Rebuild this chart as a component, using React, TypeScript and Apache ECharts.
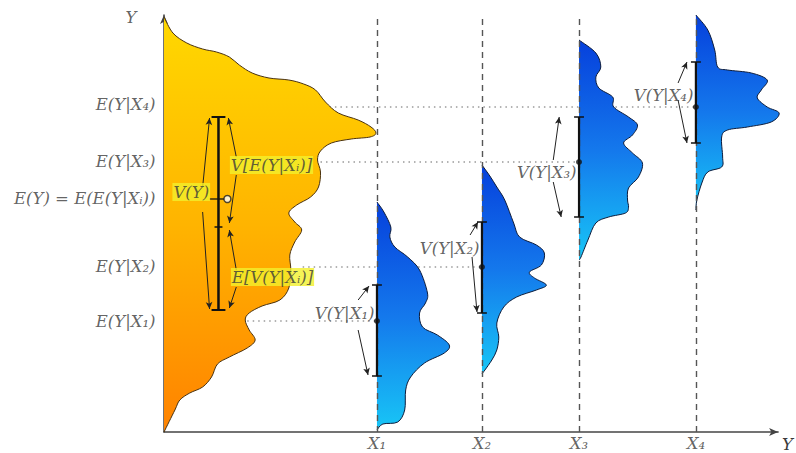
import React, { useEffect, useRef } from "react";
import * as echarts from "echarts";

// ---- data (chart units: x = horizontal units from the Y axis, y = value of Y) ----
const groupNames = ["X₁", "X₂", "X₃", "X₄"];
const groupX = [215, 321, 419, 537];
const condMeans = [111, 165, 270, 325];
const condMeanLabels = ["E(Y|X₁)", "E(Y|X₂)", "E(Y|X₃)", "E(Y|X₄)"];
const condMeanLabelY = [111, 166, 271, 328];
const condVarLabels = ["V(Y|X₁)", "V(Y|X₂)", "V(Y|X₃)", "V(Y|X₄)"];
const condVarLabelY = [119, 184, 260, 337];
const condLow = [56, 119, 215, 289];
const condHigh = [147, 210, 315, 370];
const dottedStartX = [84, 140, 158, 167];

const totalMean = 233;
const totalMeanLabel = "E(Y) = E(E(Y|Xᵢ))";
const totalLow = 122;
const totalHigh = 315;
const betweenTick = 205;
const bracketX = 55;

// marginal density of Y: [width, y]
const marginalY = [
  [0, 415], [9, 399], [23, 389], [39, 383], [53, 380], [66, 375], [76, 367], [89, 359],
  [106, 354], [126, 352], [141, 348], [153, 342], [163, 330], [176, 319], [196, 312],
  [209, 305], [214, 299], [208, 295], [189, 293], [169, 289], [158, 281], [155, 272],
  [158, 260], [156, 245], [148, 235], [134, 227], [126, 219], [132, 210], [139, 202],
  [132, 190], [127, 177], [128, 162], [126, 144], [117, 132], [99, 126], [86, 119],
  [82, 112], [86, 102], [92, 92], [84, 84], [66, 75], [54, 68], [48, 55], [39, 45],
  [26, 39], [16, 32], [11, 22], [0, 0],
];
// conditional densities: [width, y]
const density1 = [
  [0, 230], [7, 220], [14, 205], [13, 195], [18, 185], [31, 175], [43, 162], [51, 139],
  [49, 129], [43, 119], [46, 105], [61, 97], [73, 87], [68, 79], [48, 69], [34, 55],
  [29, 42], [28, 22], [21, 10], [6, 8], [0, 2],
];
const density2 = [
  [0, 267], [8, 256], [15, 245], [23, 232], [32, 209], [38, 195], [55, 187], [63, 179],
  [60, 167], [48, 160], [53, 154], [65, 147], [55, 142], [35, 135], [22, 125], [15, 109],
  [17, 95], [15, 82], [10, 72], [3, 62], [0, 58],
];
const density3 = [
  [0, 392], [17, 379], [22, 365], [17, 355], [20, 344], [34, 335], [35, 325], [50, 315],
  [59, 307], [54, 297], [45, 289], [54, 279], [64, 269], [60, 255], [50, 244], [49, 232],
  [50, 225], [47, 219], [30, 215], [17, 209], [9, 192], [2, 175], [0, 172],
];
const density4 = [
  [0, 417], [12, 402], [19, 382], [22, 365], [32, 362], [56, 359], [72, 352], [66, 342],
  [62, 334], [72, 325], [84, 319], [76, 310], [52, 305], [32, 302], [26, 295], [27, 275],
  [26, 265], [12, 260], [6, 249], [1, 232], [0, 222],
];
const densities = [density1, density2, density3, density4];

// arrows: [x0, y0, x1, y1]
const arrows = [
  [39, 245, 46, 314], [39, 220, 46, 123],
  [73, 275, 65, 314], [73, 257, 66, 209],
  [73, 162, 66, 202], [73, 145, 66, 124],
  [196, 132, 207, 146], [196, 102, 206, 57],
  [309, 197, 317, 210], [311, 175, 316, 120],
  [393, 272, 399, 315], [393, 250, 401, 215],
  [519, 349, 528, 370], [519, 332, 528, 289],
];

// highlighted labels
const highlightTexts = ["V(Y)", "V[E(Y|Xᵢ)]", "E[V(Y|Xᵢ)]"];
const highlightX = [8, 66, 67];
const highlightY = [240, 267, 155];

const mathFont = {
  fontFamily: '"DejaVu Serif", "Liberation Serif", serif',
  fontStyle: "italic",
  fontSize: 16.5,
  color: "#3a3a3a",
};

function catmull(p: number[][]): string {
  let d = `M${p[0][0]},${p[0][1]}`;
  for (let i = 0; i < p.length - 1; i++) {
    const p0 = p[i - 1] || p[i];
    const p1 = p[i];
    const p2 = p[i + 1];
    const p3 = p[i + 2] || p2;
    const c1x = p1[0] + (p2[0] - p0[0]) / 6;
    const c1y = p1[1] + (p2[1] - p0[1]) / 6;
    const c2x = p2[0] - (p3[0] - p1[0]) / 6;
    const c2y = p2[1] - (p3[1] - p1[1]) / 6;
    d += ` C${c1x},${c1y} ${c2x},${c2y} ${p2[0]},${p2[1]}`;
  }
  return d;
}

function shapeSeries(baseX: number, pts: number[][], stops: string[], stroke: string) {
  return {
    type: "custom",
    z: 2,
    silent: true,
    clip: false,
    data: [[baseX, pts[0][1]]],
    renderItem: (_params: any, api: any) => {
      const px = pts.map(([w, v]) => api.coord([baseX + w, v]));
      const curve = catmull(px);
      return {
        type: "group",
        children: [
          {
            type: "path",
            shape: { pathData: curve + " Z" },
            style: {
              fill: new echarts.graphic.LinearGradient(
                0, 0, 0, 1,
                stops.map((c, i) => ({ offset: i / (stops.length - 1), color: c }))
              ),
              stroke: "none",
            },
          },
          {
            type: "path",
            shape: { pathData: curve },
            style: { fill: "none", stroke, lineWidth: 1 },
          },
        ],
      };
    },
  };
}

function dottedSeries(x0: number, x1: number, y: number) {
  return {
    type: "line",
    z: 1,
    silent: true,
    symbol: "none",
    data: [[x0, y], [x1, y]],
    lineStyle: { color: "#9a9a9a", width: 1.3, type: [1.5, 4] },
  };
}

// segments: [x0, y0, x1, y1, width]
function buildSegments(): number[][] {
  const segs: number[][] = [];
  groupX.forEach((gx, i) => {
    segs.push([gx, condLow[i], gx, condHigh[i], 2.2]);
    segs.push([gx - 5, condLow[i], gx + 5, condLow[i], 1.5]);
    segs.push([gx - 5, condHigh[i], gx + 5, condHigh[i], 1.5]);
  });
  segs.push([bracketX, totalLow, bracketX, totalHigh, 2.5]);
  segs.push([bracketX - 7, totalLow, bracketX + 7, totalLow, 2]);
  segs.push([bracketX - 7, totalHigh, bracketX + 7, totalHigh, 2]);
  segs.push([bracketX - 4, betweenTick, bracketX + 4, betweenTick, 1.5]);
  segs.push([bracketX - 9, totalMean, bracketX + 7, totalMean, 1.3]);
  return segs;
}

export default function App() {
  const ref = useRef<HTMLDivElement>(null);

  useEffect(() => {
    if (!ref.current) return;
    const chart = echarts.init(ref.current, null, { renderer: "svg" });
    const blueStops = ["#0640dc", "#1478ec", "#18c6f6"];
    const orangeStops = ["#ffd800", "#ffb400", "#ff8200"];

    const series: any[] = [];
    groupX.forEach((gx, i) => series.push(dottedSeries(dottedStartX[i], gx, condMeans[i])));
    series.push(dottedSeries(68, 138, totalMean));

    series.push(shapeSeries(0, marginalY, orangeStops, "#4a3210"));
    densities.forEach((d, i) => series.push(shapeSeries(groupX[i], d, blueStops, "#0c1c3c")));

    // dashed verticals
    series.push({
      type: "line",
      z: 3,
      silent: true,
      data: [],
      markLine: {
        silent: true,
        symbol: ["none", "none"],
        label: { show: false },
        lineStyle: { color: "#555", width: 1.4, type: [6, 5] },
        data: groupX.map((x) => ({ xAxis: x })),
      },
    });
    // arrows
    series.push({
      type: "line",
      z: 4,
      silent: true,
      data: [],
      markLine: {
        silent: true,
        symbol: ["none", "arrow"],
        symbolSize: [5, 7],
        label: { show: false },
        lineStyle: { color: "#222", width: 1, type: "solid" },
        data: arrows.map(([x0, y0, x1, y1]) => [{ coord: [x0, y0] }, { coord: [x1, y1] }]),
      },
    });

    // brackets
    series.push({
      type: "custom",
      z: 5,
      silent: true,
      clip: false,
      data: buildSegments(),
      renderItem: (_p: any, api: any) => {
        const a = api.coord([api.value(0), api.value(1)]);
        const b = api.coord([api.value(2), api.value(3)]);
        return {
          type: "line",
          shape: { x1: a[0], y1: a[1], x2: b[0], y2: b[1] },
          style: { stroke: "#111", lineWidth: api.value(4) },
        };
      },
    });

    // mean dots
    series.push({
      type: "scatter",
      z: 6,
      silent: true,
      symbolSize: 6,
      itemStyle: { color: "#111" },
      data: groupX.map((x, i) => [x, condMeans[i]]),
    });
    series.push({
      type: "scatter",
      z: 6,
      silent: true,
      symbolSize: 7,
      itemStyle: { color: "#fff", borderColor: "#222", borderWidth: 1.5 },
      data: [[bracketX + 9, totalMean]],
    });

    const labelPoint = { symbolSize: 1, itemStyle: { color: "rgba(0,0,0,0)" } };
    series.push({
      type: "scatter",
      z: 7,
      silent: true,
      ...labelPoint,
      data: [
        ...condMeanLabels.map((t, i) => ({ name: t, value: [0, condMeanLabelY[i]] })),
        { name: totalMeanLabel, value: [0, 234] },
      ],
      label: { show: true, position: "left", distance: 8, formatter: (p: any) => p.name, ...mathFont },
    });
    series.push({
      type: "scatter",
      z: 7,
      silent: true,
      ...labelPoint,
      data: [{ name: "Y", value: [0, 415] }],
      label: { show: true, position: "left", distance: 27, formatter: (p: any) => p.name, ...mathFont },
    });
    series.push({
      type: "scatter",
      z: 7,
      silent: true,
      ...labelPoint,
      data: groupNames.map((t, i) => ({ name: t, value: [groupX[i], 0] })),
      label: { show: true, position: "bottom", distance: 2, formatter: (p: any) => p.name, ...mathFont },
    });
    series.push({
      type: "scatter",
      z: 7,
      silent: true,
      ...labelPoint,
      data: condVarLabels.map((t, i) => ({ name: t, value: [groupX[i], condVarLabelY[i]] })),
      label: { show: true, position: "left", distance: 2, formatter: (p: any) => p.name, ...mathFont },
    });
    series.push({
      type: "scatter",
      z: 7,
      silent: true,
      ...labelPoint,
      data: highlightTexts.map((t, i) => ({ name: t, value: [highlightX[i], highlightY[i]] })),
      label: {
        show: true,
        position: "right",
        distance: 0,
        formatter: (p: any) => p.name,
        ...mathFont,
        backgroundColor: "#f2f02c",
        padding: [1, 1, 0, 1],
      },
    });

    chart.setOption({
      animation: false,
      backgroundColor: "#ffffff",
      grid: { left: 164, right: 12, top: 15, bottom: 21 },
      xAxis: {
        type: "value",
        min: 0,
        max: 620,
        axisLine: {
          show: true,
          symbol: ["none", "arrow"],
          symbolSize: [6, 9],
          lineStyle: { color: "#444", width: 1.5 },
        },
        axisTick: { show: false },
        axisLabel: { show: false },
        splitLine: { show: false },
        name: "Y",
        nameLocation: "end",
        nameGap: 4,
        nameTextStyle: { ...mathFont, verticalAlign: "top", padding: [4, 0, 0, 0] },
      },
      yAxis: {
        type: "value",
        min: 0,
        max: 417,
        axisLine: {
          show: true,
          symbol: ["none", "arrow"],
          symbolSize: [6, 9],
          lineStyle: { color: "#444", width: 1.5 },
        },
        axisTick: { show: false },
        axisLabel: { show: false },
        splitLine: { show: false },
      },
      series,
    });
    return () => chart.dispose();
  }, []);

  return (
    <div
      ref={ref}
      style={{ position: "fixed", left: 0, top: 0, width: 796, height: 453, background: "#fff" }}
    />
  );
}
